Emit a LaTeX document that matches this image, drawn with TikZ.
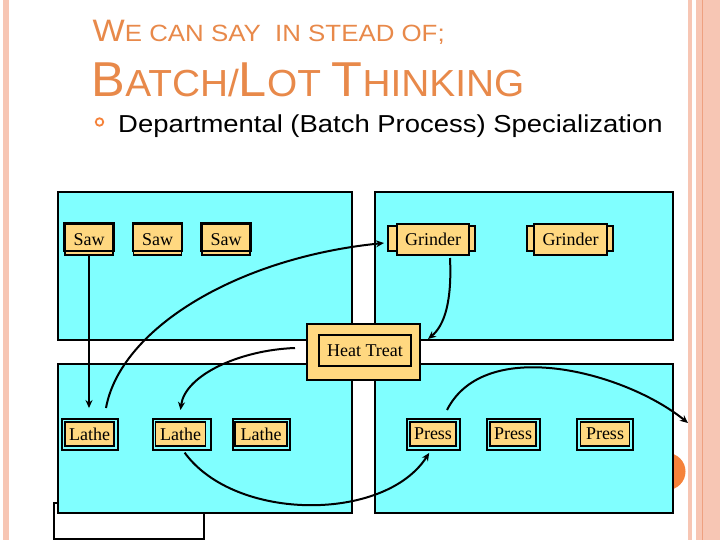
\documentclass[tikz,border=0pt]{standalone}
\usepackage{graphicx}
\usepackage{fontspec}
\setmainfont{Liberation Serif}
\newfontfamily\sansf{Liberation Sans}
\usetikzlibrary{arrows.meta}
\definecolor{cyanbg}{RGB}{128,255,255}
\definecolor{lorange}{RGB}{255,216,128}
\definecolor{torange}{RGB}{232,137,74}
\definecolor{pinkb}{RGB}{247,198,180}
\definecolor{pinkd}{RGB}{238,160,128}
\definecolor{dotor}{RGB}{245,130,58}
\begin{document}
\begin{tikzpicture}[x=1pt,y=-1pt,
  dept/.style={draw=black,line width=2pt,fill=cyanbg},
  mlabel/.style={font=\fontsize{18}{18}\selectfont,inner sep=0pt,text=black},
  sawbox/.style={mlabel,draw=black,line width=1.3pt,fill=lorange,minimum width=48pt,minimum height=31pt},
  grbox/.style={mlabel,draw=black,line width=1.6pt,fill=lorange,minimum width=72pt,minimum height=31pt},
  inbox/.style={mlabel,draw=black,line width=1.9pt,fill=lorange,minimum height=24pt},
  outbox/.style={draw=black,line width=1.3pt},
  arr/.style={draw=black,line width=2pt,-{Stealth[length=8pt,width=7pt]}},
  ttl/.style={anchor=base west,inner sep=0pt,text=torange}
]
\useasboundingbox (0,0) rectangle (720,540);
\fill[white] (0,0) rectangle (720,540);
% page borders
\fill[pinkb] (2.7,0) rectangle (9,540);
\fill[pinkb] (688.3,0) rectangle (692.3,540);
\fill[pinkb] (695.7,0) rectangle (720,540);
\draw[pinkd,line width=1.2pt] (702.5,0) -- (702.5,540);

% titles
\node[ttl] (title1) at (92.5,42) {\sansf\scalebox{1.1}[1]{\fontsize{31}{31}\selectfont W\fontsize{23.5}{23.5}\selectfont E CAN SAY\ \ IN STEAD OF;}};
\node[ttl] (title2) at (91.5,97) {\sansf\scalebox{1.03}[1]{\fontsize{49}{49}\selectfont B\fontsize{37.7}{37.7}\selectfont ATCH/\fontsize{49}{49}\selectfont L\fontsize{37.7}{37.7}\selectfont OT \fontsize{49}{49}\selectfont T\fontsize{37.7}{37.7}\selectfont HINKING}};
\node[circle,draw=dotor,line width=1.8pt,inner sep=0pt,minimum size=7.5pt] (bullet) at (99.5,122) {};
\node[anchor=base west,inner sep=0pt,text=black] (subtitle) at (118,133) {\sansf\scalebox{1.12}[1]{\fontsize{24.5}{24.5}\selectfont Departmental (Batch Process) Specialization}};

% background pieces
\draw[black,line width=1.4pt,fill=white] (54,503) rectangle (204,539);
\fill[dotor] (667,471.5) circle (18.5);

% departments
\draw[dept] (58,192) rectangle (352,340);
\draw[dept] (375,192) rectangle (673,340);
\draw[dept] (58,364) rectangle (352,513);
\draw[dept] (375,364) rectangle (673,513);

% heat treat
\draw[draw=black,line width=2pt,fill=lorange] (307,324) rectangle (420,380);
\node[mlabel,draw=black,line width=2pt,fill=lorange,minimum width=92pt,minimum height=31pt] (heat) at (365,350.5) {Heat Treat};

% saws
\node[sawbox] (saw1) at (89,239.5) {Saw};
\node[sawbox] (saw2) at (157.5,239.5) {Saw};
\node[sawbox] (saw3) at (226,239.5) {Saw};
\foreach \s in {saw1,saw2,saw3}{
  \draw[black,line width=2pt] (\s.north west) rectangle ([yshift=5pt]\s.south east);
}

% grinders
\draw[black,line width=1.6pt,fill=lorange] (388,226) rectangle (475,251);
\node[grbox] (grind1) at (433,239.5) {Grinder};
\draw[black,line width=1.6pt,fill=lorange] (527,226) rectangle (613,251);
\node[grbox,minimum width=73pt] (grind2) at (570.5,239.5) {Grinder};

% lathes
\draw[outbox] (62,419) rectangle (118,450);
\node[inbox,minimum width=49pt] (lathe1) at (89.5,434) {Lathe};
\draw[outbox] (153,419) rectangle (211,450);
\node[inbox,minimum width=50pt] (lathe2) at (180.5,434) {Lathe};
\draw[outbox] (233,419) rectangle (290,450);
\node[inbox,minimum width=52pt] (lathe3) at (261,434) {Lathe};

% presses
\draw[outbox] (407,419) rectangle (460,450);
\node[inbox,minimum width=46pt] (press1) at (433,434) {Press};
\draw[outbox] (487,419) rectangle (540,450);
\node[inbox,minimum width=46pt] (press2) at (513,434) {Press};
\draw[outbox] (577,419) rectangle (633,450);
\node[inbox,minimum width=49pt] (press3) at (605,434) {Press};

% connector free ends
\coordinate (a2s) at (106,408);
\coordinate (a2e) at (384,243);
\coordinate (a3s) at (450,258);
\coordinate (a3e) at (428,339);
\coordinate (a4s) at (295,348);
\coordinate (a4e) at (180.5,410);
\coordinate (a6s) at (447,410);
\coordinate (a6e) at (688,423);

% connectors
\draw[arr,shorten >=13pt] (saw1.south) -- (saw1.south |- lathe1.north);
\draw[arr] (a2s) .. controls (120,330) and (235,258) .. (a2e);
\draw[arr] (a3s) .. controls (452,300) and (445,325) .. (a3e);
\draw[arr] (a4s) .. controls (240,350) and (185,375) .. (a4e);
\draw[arr,shorten <=7pt,shorten >=7pt] (lathe2.south) .. controls (235,522) and (385,522) .. (press1.south);
\draw[arr] (a6s) .. controls (485,335) and (625,372) .. (a6e);
\end{tikzpicture}
\end{document}
